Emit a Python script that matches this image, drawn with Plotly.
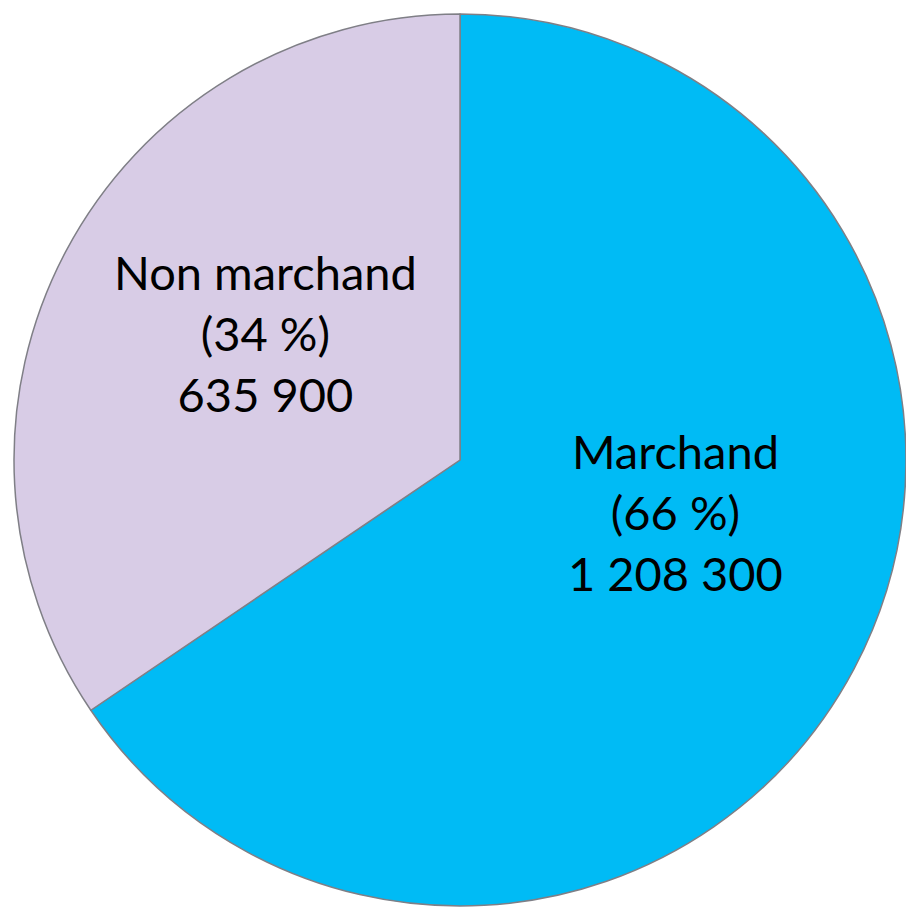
import plotly.graph_objects as go

labels = ["Marchand", "Non marchand"]
values = [1208300, 635900]
colors = ["#00BBF5", "#D8CCE6"]
label_pos = [(675, 512), (265, 333)]  # pixel centres of label blocks

W, H = 906, 909
cx, cy, r = 460, 460, 446

total = sum(values)

def fmt(v):
    return f"{v:,}".replace(",", " ")

fig = go.Figure(go.Pie(
    labels=labels, values=values, sort=False, direction="clockwise", rotation=0,
    marker=dict(colors=colors, line=dict(color="#7f7f86", width=1.5)),
    textinfo="none", hoverinfo="label+value+percent", showlegend=False,
    domain=dict(x=[(cx - r) / W, (cx + r) / W], y=[(H - cy - r) / H, (H - cy + r) / H]),
))

for lab, v, (px, py) in zip(labels, values, label_pos):
    pct = round(v / total * 100)
    fig.add_annotation(
        x=px / W, y=1 - py / H, xref="paper", yref="paper",
        xanchor="center", yanchor="middle",
        text=f"{lab}<br>({pct} %)<br>{fmt(v)}", showarrow=False,
        font=dict(family="Lato, Open Sans, sans-serif", size=47, color="#000000"),
        align="center",
    )

fig.update_layout(width=W, height=H, margin=dict(l=0, r=0, t=0, b=0),
                  paper_bgcolor="white", plot_bgcolor="white")
fig.write_html("out.html", config={"displayModeBar": False},
               post_script="document.body.style.margin='0';document.body.style.overflow='hidden';")
